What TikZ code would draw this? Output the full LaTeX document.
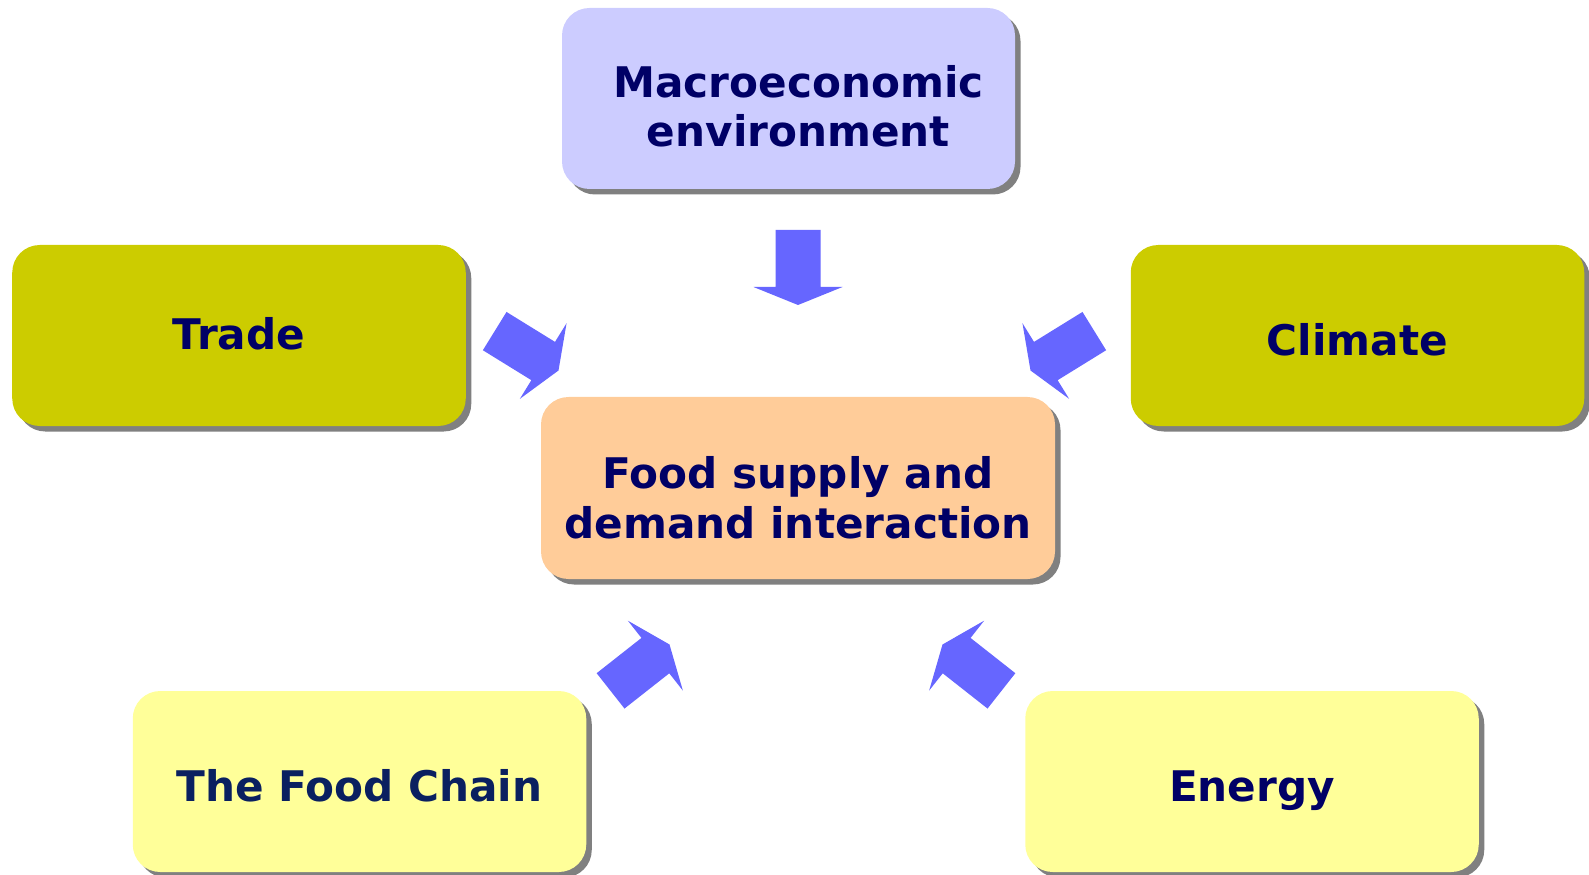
\documentclass[tikz,border=0pt]{standalone}
\usepackage{fontspec}
\setmainfont{DejaVu Sans}
\usetikzlibrary{shadows}
\definecolor{boxblue}{HTML}{CCCCFF}
\definecolor{boxolive}{HTML}{CCCC00}
\definecolor{boxpeach}{HTML}{FFCC99}
\definecolor{boxyellow}{HTML}{FFFF99}
\definecolor{txtnavy}{HTML}{000066}
\definecolor{txtdeep}{HTML}{0A2060}
\definecolor{arrowblue}{HTML}{6666FF}
\definecolor{shadowgray}{HTML}{808080}
\tikzset{
  factor/.style={rounded corners=0.55cm,minimum width=9.07cm,minimum height=3.62cm,align=center,
    text=txtnavy,text depth=0pt,font=\bfseries\fontsize{24}{28.45}\selectfont,
    drop shadow={shadow xshift=0.11cm,shadow yshift=-0.11cm,fill=shadowgray,opacity=1}},
  flowarrow/.pic={\fill[arrowblue](0,0)--(-0.36,0.89)--(-0.36,0.45)--(-1.5,0.45)--(-1.5,-0.45)--(-0.36,-0.45)--(-0.36,-0.89)--cycle;}
}
\begin{document}
\begin{tikzpicture}
\useasboundingbox(0,0) rectangle (31.78,-17.5);
\node[factor,fill=boxblue,minimum width=9.06cm,text height=1.94cm](macro) at (15.77,-1.97){\hspace*{0.4cm}Macroeconomic\\\hspace*{0.4cm}environment};
\node[factor,fill=boxolive,text height=0.58cm](trade) at (4.78,-6.71){Trade};
\node[factor,fill=boxolive,text height=0.8cm](climate) at (27.15,-6.71){Climate};
\node[factor,fill=boxpeach,minimum width=10.28cm,minimum height=3.64cm,text height=2cm](food) at (15.96,-9.76){Food supply and\\demand interaction};
\node[factor,fill=boxyellow,text=txtdeep,text height=0.78cm](chain) at (7.19,-15.63){The Food Chain};
\node[factor,fill=boxyellow,text height=0.78cm](energy) at (25.04,-15.63){Energy};
\foreach \tx/\ty/\ang in {15.96/-6.10/-90,11.17/-7.41/-31.7,20.61/-7.41/-148.3,13.39/-12.89/38.2,18.85/-12.89/141.8}{\pic[rotate=\ang] at (\tx,\ty){flowarrow};}
\end{tikzpicture}
\end{document}
